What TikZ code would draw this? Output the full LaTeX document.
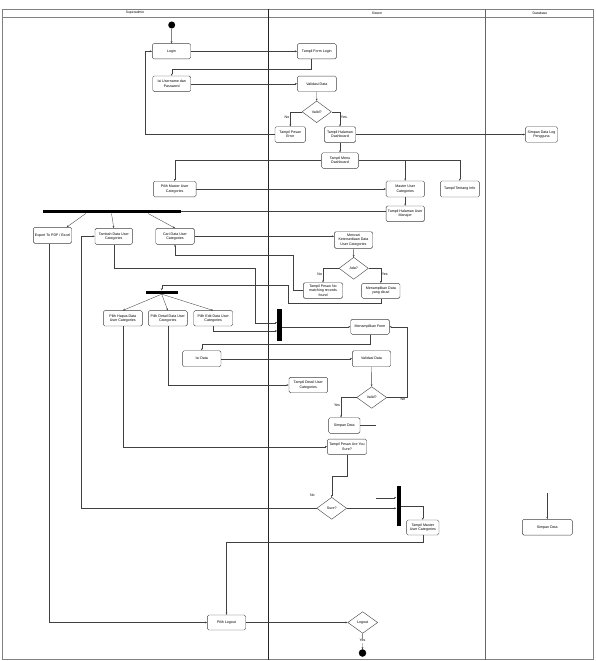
\documentclass[tikz,border=0pt]{standalone}
\usepackage{fontspec}
\setmainfont{Liberation Sans}
\usetikzlibrary{shapes.geometric,arrows.meta,calc}
\newcommand\fs{\fontsize{3.6}{4.3}\selectfont}
\begin{document}
\begin{tikzpicture}[x=1pt,y=-1pt,
  act/.style={draw=black!75, rounded corners=1.5pt, line width=0.4pt, inner sep=0pt, align=center, font=\fs, fill=white},
  dec/.style={draw=black!75, diamond, line width=0.4pt, inner sep=0pt, minimum width=30pt, minimum height=22pt, font=\fs, fill=white},
  barn/.style={fill=black, draw=none, inner sep=0pt},
  arr/.style={-{Stealth[length=2.2pt,width=1.8pt]}, line width=0.35pt, draw=black!75},
  ln/.style={line width=0.35pt, draw=black!75},
  lbl/.style={font=\fs, inner sep=0.8pt},
  hd/.style={font=\fontsize{3.4}{4}\selectfont, inner sep=0pt}]
\useasboundingbox (0,0) rectangle (595,661);
% swimlanes
\draw[black!50, line width=0.5pt] (2,9) rectangle (593,659.5);
\draw[black!50, line width=0.5pt] (2,17) -- (593,17);
\draw[black!85, line width=0.5pt] (268.5,9) -- (268.5,659.5);
\draw[black!60, line width=0.5pt] (485.7,9) -- (485.7,659.5);
\node[hd] (h1) at (135,13) {Superadmin};
\node[hd] (h2) at (377,13) {Sistem};
\node[hd] (h3) at (540,13) {Database};

% nodes
\node[circle, fill=black, inner sep=0pt, minimum size=7pt] (start) at (171.7,25) {};
\node[act, minimum width=38.4pt, minimum height=15.3pt] (login) at (171.5,51.3) {Login};
\node[act, minimum width=38pt, minimum height=15.7pt] (isi) at (171.7,83.8) {Isi Username dan\\Password};
\node[act, minimum width=39pt, minimum height=15.3pt] (tfl) at (316.8,51.3) {Tampil Form Login};
\node[act, minimum width=39pt, minimum height=15.3pt] (val1) at (316.8,83.8) {Validasi Data};
\node[dec, minimum width=29.3pt, minimum height=21.7pt] (dv1) at (316.7,111.8) {Valid?};
\node[act, minimum width=30.7pt, minimum height=15.6pt] (err) at (290.3,134.5) {Tampil Pesan\\Error};
\node[act, minimum width=31.4pt, minimum height=15.6pt] (dash) at (340,134.5) {Tampil Halaman\\Dashboard};
\node[act, minimum width=32.4pt, minimum height=15.5pt] (logp) at (541.5,134.5) {Simpan Data Log\\Pengguna};
\node[act, minimum width=36.7pt, minimum height=15.6pt] (menu) at (340,160.5) {Tampil Menu\\Dashboard};
\node[act, minimum width=42.7pt, minimum height=15.6pt] (pmaster) at (174.7,189) {Pilih Master User\\Categories};
\node[act, minimum width=38.3pt, minimum height=16pt] (master) at (405.2,189) {Master User\\Categories};
\node[act, minimum width=39pt, minimum height=16pt] (info) at (459.8,189) {Tampil Tentang Info};
\node[act, minimum width=38.3pt, minimum height=15.7pt] (manajer) at (405.2,213.8) {Tampil Halaman User\\Manajer};
\node[barn, minimum width=138.3pt, minimum height=3.3pt] (bar1) at (111.85,211.65) {};
\node[act, minimum width=38.4pt, minimum height=16pt] (export) at (52.5,235.3) {Export To PDF / Excel};
\node[act, minimum width=37.7pt, minimum height=16pt] (tambah) at (113.8,236.3) {Tambah Data User\\Categories};
\node[act, minimum width=38.6pt, minimum height=16pt] (cari) at (175,236.3) {Cari Data User\\Categories};
\node[act, minimum width=38.4pt, minimum height=16.6pt] (mencari) at (353.5,240) {Mencari\\Ketersediaan Data\\User Categories};
\node[dec, minimum width=29.3pt, minimum height=22pt] (ada) at (353.7,268.3) {Ada?};
\node[act, minimum width=39.4pt, minimum height=15.6pt] (nomatch) at (323,290.5) {Tampil Pesan No\\matching records\\found};
\node[act, minimum width=38.3pt, minimum height=15pt] (tampildata) at (380.8,290.8) {Menampilkan Data\\yang dicari};
\node[barn, minimum width=32pt, minimum height=3.3pt] (fork) at (161.7,292.3) {};
\node[act, minimum width=39pt, minimum height=15.3pt] (hapus) at (122.8,318.3) {Pilih Hapus Data\\User Categories};
\node[act, minimum width=39pt, minimum height=15.3pt] (detail) at (167.8,318.3) {Pilih Detail Data User\\Categories};
\node[act, minimum width=39pt, minimum height=15.3pt] (edit) at (213.2,318.3) {Pilih Edit Data User\\Categories};
\node[barn, minimum width=4.3pt, minimum height=32pt] (bar2) at (279.5,325) {};
\node[act, minimum width=38.6pt, minimum height=15pt] (form) at (370,326.8) {Menampilkan Form};
\node[act, minimum width=38.3pt, minimum height=16pt] (isidata) at (201.8,358.7) {Isi Data};
\node[act, minimum width=38.4pt, minimum height=16pt] (val2) at (371.5,358.7) {Validasi Data};
\node[dec, minimum width=30pt, minimum height=21.6pt] (dv2) at (371.7,397.5) {Valid?};
\node[act, minimum width=38.7pt, minimum height=15.4pt] (tdetail) at (308.3,385) {Tampil Detail User\\Categories};
\node[act, minimum width=31.3pt, minimum height=15.6pt] (simpan) at (344.3,425.5) {Simpan Data};
\node[act, minimum width=39.4pt, minimum height=15.3pt] (sure) at (347,446.7) {Tampil Pesan Are You\\Sure?};
\node[dec, minimum width=30pt, minimum height=22pt] (dsure) at (331.7,508.3) {Sure?};
\node[barn, minimum width=4pt, minimum height=40pt] (bar3) at (398.5,505.8) {};
\node[act, minimum width=32.3pt, minimum height=15pt] (tmaster) at (422.8,527.5) {Tampil Master\\User Categories};
\node[act, minimum width=50pt, minimum height=15.7pt] (dbsimpan) at (547.3,527.2) {Simpan Data};
\node[act, minimum width=38.4pt, minimum height=15pt] (logout) at (226.5,622.5) {Pilih Logout};
\node[dec, minimum width=30pt, minimum height=21.6pt] (dlogout) at (362.7,622.5) {Logout};
\node[circle, fill=black, draw=black, inner sep=0pt, minimum size=7pt] (end) at (362.5,653) {};

% connectors
\draw[arr] (start) -- (login);
\draw[arr] (login) -- (tfl);
\draw[arr] ([xshift=-6.1pt]tfl.south) -- ++(0,10.3) -| (isi.north);
\draw[arr] (isi) -- (val1);
\draw[arr] (val1) -- (dv1);
\draw[arr] (dv1.west) -| (err.north) node[lbl,pos=0.7,left] {No};
\draw[arr] (dv1.east) -| (dash.north) node[lbl,pos=0.7,right] {Yes};
\draw[arr] (err.west) -| ([xshift=-7.3pt]login.west) -- (login.west);
\draw[arr] (dash) -- (logp);
\draw[arr] (dash) -- (menu);
\draw[arr] (menu.west) -| (pmaster.north);
\draw[arr] (menu.east) -| (info.north);
\draw[arr] (menu.east -| master.north) -- (master.north);
\draw[arr] (pmaster) -- (master);
\draw[arr] (master) -- (manajer);
\draw[ln] (bar1.east) -- (bar1.east -| manajer.west);
\draw[arr] ([xshift=43.3pt]bar1.south west) -- ([xshift=14.2pt]export.north);
\draw[arr] ([xshift=69pt]bar1.south west) -- (tambah.north);
\draw[arr] ([xshift=105.6pt]bar1.south west) -- (cari.north);
\draw[arr] (cari.east) -- (cari.east -| mencari.west);
\draw[arr] (mencari) -- (ada);
\draw[arr] (ada.west) -| (nomatch.north) node[lbl,pos=0.7,left] {No};
\draw[arr] (ada.east) -| (tampildata.north) node[lbl,pos=0.7,right] {Yes};
\draw[arr] (nomatch.west) -- ++(-10,0) |- ([yshift=-10.7pt]cari.south) -- (cari.south);
\draw[arr] (tampildata.south) -- ++(0,5) -| (288.3,285) -| (fork.north);
\foreach \t in {hapus,detail,edit} \draw[arr] (fork.south) -- (\t.north);
\coordinate (t1) at (255,322.7);
\draw[arr] (tambah.south) |- (255,268.3) -- (t1) -- (t1 -| bar2.west);
\draw[arr] (edit.south) |- ([yshift=-6pt]bar2.west);
\draw[arr] (bar2.east |- form.west) -- (form.west);
\draw[arr] (form.south) -- ++(0,9.7) -| (isidata.north);
\draw[arr] (isidata) -- (val2);
\draw[arr] (val2) -- (dv2);
\draw[arr] (dv2.west) -| ([xshift=-3.3pt]simpan.north) node[lbl,pos=0.7,left] {Yes};
\draw[arr] (dv2.east) -- node[lbl,below,pos=0.8] {No} ++(20,0) |- (form.east);
\draw[arr] (detail.south) |- (tdetail.west);
\draw[arr] (hapus.south) |- (sure.west);
\draw[ln] (simpan.east) -- ++(16,0) coordinate (s1);
\coordinate (s2) at (376,497.7);
\draw[arr] (s2) -- (s2 -| bar3.west);
\draw[arr] (sure.south) -- ++(0,21.3) -| (dsure.north);
\draw[arr] (dsure.west) -| ([xshift=-13.3pt]tambah.west) -- (tambah.west);
\node[lbl] (nolbl) at (312.3,495.7) {No};
\draw[arr] (dsure.east) -- (dsure.east -| bar3.west);
\draw[arr] (bar3.east) -| (tmaster.north);
\draw[arr] (tmaster.south) -- ++(0,6.7) -| (logout.north);
\draw[arr] ([xshift=-3.2pt]export.south) |- (logout.west);
\draw[arr] (logout) -- (dlogout);
\draw[arr] (dlogout) -- node[lbl,fill=white,pos=0.45] {Yes} (end);
\coordinate (d1) at (547.3,493.3);
\draw[arr] (d1) -- (dbsimpan.north);
\end{tikzpicture}
\end{document}
